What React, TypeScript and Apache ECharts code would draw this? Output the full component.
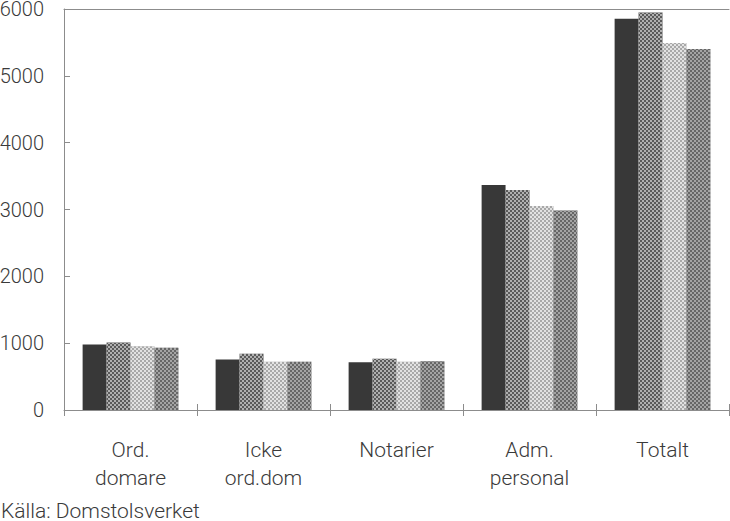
import React, { useEffect, useRef } from "react";
import * as echarts from "echarts";

const categories = ["Ord.\ndomare", "Icke\nord.dom", "Notarier", "Adm.\npersonal", "Totalt"];
const series1 = [980, 756, 715, 3368, 5853];
const series2 = [1010, 841, 766, 3293, 5948];
const series3 = [955, 721, 721, 3054, 5490];
const series4 = [931, 721, 730, 2984, 5400];
const yTicks = { min: 0, max: 6000, interval: 1000 };
const source = "Källa: Domstolsverket";

const FONT = "Roboto, 'Liberation Sans', Arial, sans-serif";
const WEIGHT = 300;
const TEXT = "#3a3a3a";
const LINE = "#8c8c8c";

export default function App() {
  const ref = useRef<HTMLDivElement>(null);
  useEffect(() => {
    if (!ref.current) return;
    const chart = echarts.init(ref.current, null, { renderer: "svg" });
    const mkDecal = (color: string) => ({
      symbol: "rect",
      symbolSize: 1,
      color,
      dashArrayX: [[2, 2], [0, 2, 2, 0]],
      dashArrayY: [2, 0],
      rotation: 0,
    });
    const bar = (name: string, data: number[], color: string, decal?: any) => ({
      type: "bar",
      name,
      data,
      barGap: "0%",
      barCategoryGap: "28%",
      itemStyle: decal ? { color, decal } : { color },
    });
    chart.setOption({
      animation: false,
      backgroundColor: "#ffffff",
      textStyle: { fontFamily: FONT },
      grid: { left: 64, right: 1, top: 9, bottom: 111, containLabel: false, outerBoundsMode: "none" },
      xAxis: [
        {
          type: "category",
          data: categories,
          position: "bottom",
          axisLine: { show: true, lineStyle: { color: LINE, width: 1 } },
          axisTick: { show: true, inside: false, length: 6, lineStyle: { color: LINE } },
          axisLabel: {
            color: TEXT,
            fontSize: 21,
            fontWeight: WEIGHT,
            lineHeight: 28,
            margin: 26,
            fontFamily: FONT,
          },
        },
        {
          type: "category",
          data: categories,
          position: "bottom",
          gridIndex: 0,
          axisLine: { show: false },
          axisTick: { show: true, inside: true, length: 6, lineStyle: { color: LINE } },
          axisLabel: { show: false },
        },
        {
          type: "category",
          data: categories,
          position: "top",
          axisLine: { show: true, lineStyle: { color: LINE, width: 1 } },
          axisTick: { show: false },
          axisLabel: { show: false },
        },
      ],
      yAxis: {
        type: "value",
        min: yTicks.min,
        max: yTicks.max,
        interval: yTicks.interval,
        axisLine: { show: true, lineStyle: { color: LINE, width: 1 } },
        axisTick: { show: true, inside: true, length: 6, lineStyle: { color: LINE } },
        splitLine: { show: false },
        axisLabel: {
          color: TEXT,
          fontSize: 20,
          fontWeight: WEIGHT,
          margin: 20,
          fontFamily: FONT,
          formatter: (v: number) => String(v),
        },
      },
      series: [
        bar("s1", series1, "#383838"),
        bar("s2", series2, "#5a5a5a", mkDecal("#b0b0b0")),
        bar("s3", series3, "#a8a8a8", mkDecal("#e2e2e2")),
        bar("s4", series4, "#666666", mkDecal("#a4a4a4")),
      ],
      graphic: [
        {
          type: "text",
          left: 1,
          top: 500,
          style: { text: source, fill: TEXT, fontSize: 21, fontWeight: WEIGHT, fontFamily: FONT },
        },
      ],
    });
    return () => chart.dispose();
  }, []);
  return <div ref={ref} style={{ width: 730, height: 521, position: "absolute", left: 0, top: 0 }} />;
}
